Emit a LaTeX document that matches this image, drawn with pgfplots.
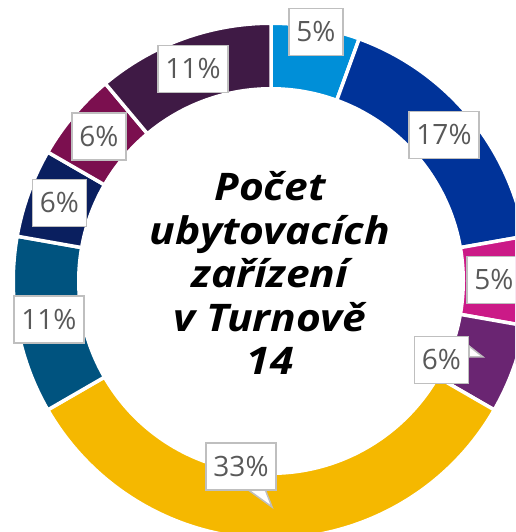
\documentclass[border=0pt]{standalone}
\usepackage{pgfplots}
\pgfplotsset{compat=1.18}
\usepackage{pgfplotstable}
\usepackage{fontspec}
\setmainfont{Open Sans}
\definecolor{c1}{HTML}{008FD8}
\definecolor{c2}{HTML}{003399}
\definecolor{c3}{HTML}{CB1A87}
\definecolor{c4}{HTML}{6A2572}
\definecolor{c5}{HTML}{F5B800}
\definecolor{c6}{HTML}{00537F}
\definecolor{c7}{HTML}{0A1F5F}
\definecolor{c8}{HTML}{7B0F4F}
\definecolor{c9}{HTML}{3F1A45}
\definecolor{lbgray}{HTML}{BFBFBF}
\definecolor{lbtext}{HTML}{595959}
% n = share of the ring (18 parts in total), lab = printed percentage, lx ly = label position
\pgfplotstableread{
n col lab lx ly
1 c1 5 316 500
3 c2 17 444 397
1 c3 5 494 252
1 c4 6 441.5 172
6 c5 33 241 65.5
2 c6 11 49 212.5
1 c7 6 59.5 329
1 c8 6 99 395.5
2 c9 11 193 463
}\slices
\begin{document}
\begin{tikzpicture}
\begin{axis}[at={(0,0)}, anchor=origin, scale only axis,
  width=515pt, height=532pt, xmin=0, xmax=515, ymin=0, ymax=532,
  hide axis, clip=true, clip mode=global]
\pgfplotstablegetrowsof{\slices}\pgfmathtruncatemacro\nrows{\pgfplotsretval-1}
\gdef\cum{0}
\gdef\tot{0}
\pgfplotsforeachungrouped \i in {0,...,\nrows}{%
  \pgfplotstablegetelem{\i}{n}\of\slices
  \pgfmathsetmacro\tmp{\tot+\pgfplotsretval}\xdef\tot{\tmp}}
\pgfmathsetmacro\unit{360/\tot}
\pgfplotsforeachungrouped \i in {0,...,\nrows}{%
  \pgfplotstablegetelem{\i}{n}\of\slices \let\vn\pgfplotsretval
  \pgfplotstablegetelem{\i}{col}\of\slices \let\vc\pgfplotsretval
  \pgfmathsetmacro\aS{90-\cum*\unit}
  \pgfmathsetmacro\cumnew{\cum+\vn}
  \pgfmathsetmacro\aE{90-\cumnew*\unit}
  \xdef\cum{\cumnew}
  \edef\temp{\noexpand\fill[\vc, draw=white, line width=3.5pt, shift={(axis cs:271,251)}]
    (\aS:257.75pt) arc[start angle=\aS, end angle=\aE, radius=257.75pt]
    -- (\aE:192.25pt) arc[start angle=\aE, end angle=\aS, radius=192.25pt] -- cycle;}
  \temp
}
% callout pointers
\filldraw[fill=white, draw=lbgray, line width=1.5pt] (axis cs:247,43) -- (axis cs:272,25) -- (axis cs:265,43) -- cycle;
\filldraw[fill=white, draw=lbgray, line width=1.5pt] (axis cs:469,186) -- (axis cs:483,175) -- (axis cs:469,175) -- cycle;
\pgfplotsforeachungrouped \i in {0,...,\nrows}{%
  \pgfplotstablegetelem{\i}{lab}\of\slices \let\vl\pgfplotsretval
  \pgfplotstablegetelem{\i}{lx}\of\slices \let\vx\pgfplotsretval
  \pgfplotstablegetelem{\i}{ly}\of\slices \let\vy\pgfplotsretval
  \edef\temp{\noexpand\node[draw=lbgray, line width=1.5pt, fill=white, text=lbtext,
    font=\noexpand\fontsize{28}{32}\noexpand\selectfont, inner xsep=7.5pt, inner ysep=0pt,
    minimum height=47pt] at (axis cs:\vx,\vy) {\vl\noexpand\%};}
  \temp
}
\node[align=center, font=\fontsize{38}{43.5}\selectfont\bfseries\itshape\addfontfeature{FakeStretch=1.12}, text=black]
  at (axis cs:270,259) {Počet\\ubytovacích\\zařízení\\v Turnově\\14};
\end{axis}
\pgfresetboundingbox
\useasboundingbox (0,0) rectangle (515pt,532pt);
\end{tikzpicture}
\end{document}
